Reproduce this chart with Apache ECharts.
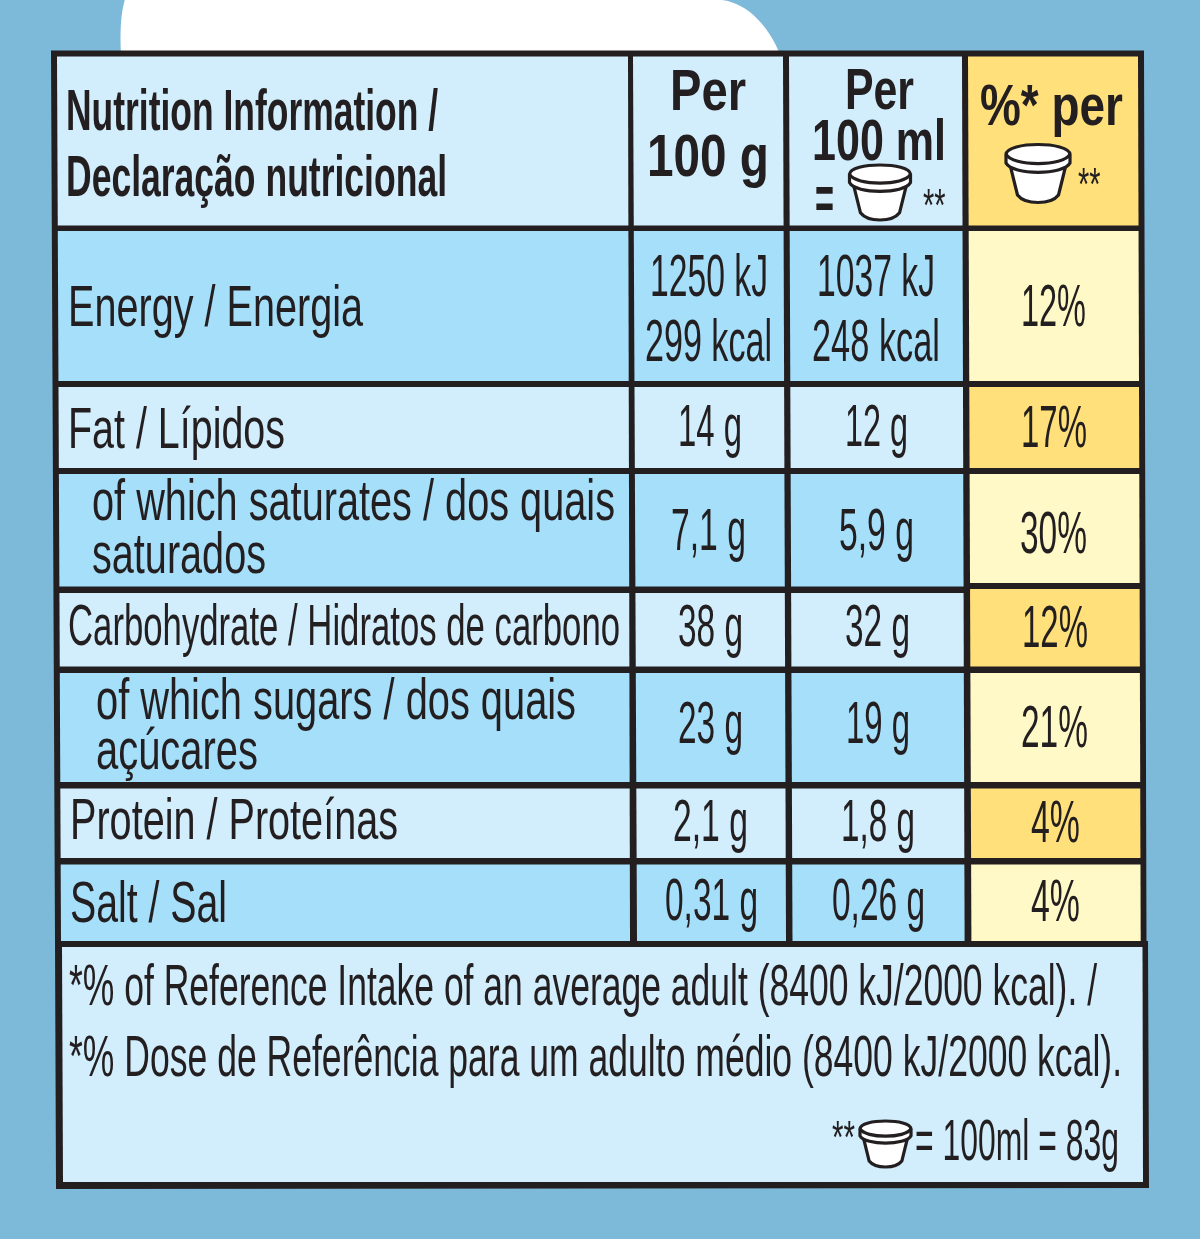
<!DOCTYPE html>
<html lang="en">
<head>
    <meta charset="UTF-8">
    <title>Nutrition Information</title>
    <style>
        html, body { margin: 0; padding: 0; background: #7dbad9; }
    </style>
</head>
<body>
<div id="main" style="width: 1200px;height:1239px;"></div>
<script src="https://cdn.jsdelivr.net/npm/echarts@6/dist/echarts.min.js"></script>
<script>
    // table content
    var headerTitle = ['Nutrition Information /', 'Declaração nutricional'];
    var header100g = ['Per', '100 g'];
    var header100ml = ['Per', '100 ml'];
    var headerPercent = '%* per';
    var rowLabels = [
        ['Energy / Energia'],
        ['Fat / Lípidos'],
        ['of which saturates / dos quais', 'saturados'],
        ['Carbohydrate / Hidratos de carbono'],
        ['of which sugars / dos quais', 'açúcares'],
        ['Protein / Proteínas'],
        ['Salt / Sal']
    ];
    var per100g = [['1250 kJ', '299 kcal'], ['14 g'], ['7,1 g'], ['38 g'], ['23 g'], ['2,1 g'], ['0,31 g']];
    var per100ml = [['1037 kJ', '248 kcal'], ['12 g'], ['5,9 g'], ['32 g'], ['19 g'], ['1,8 g'], ['0,26 g']];
    var percentRI = ['12%', '17%', '30%', '12%', '21%', '4%', '4%'];
    var footnotes = [
        '*% of Reference Intake of an average adult (8400 kJ/2000 kcal). /',
        '*% Dose de Referência para um adulto médio (8400 kJ/2000 kcal).'
    ];
    var portionNote = '= 100ml = 83g';

    // layout, in picture pixels. the printed table leans a little, so columns have a top and a bottom x
    var colTop = [[57, 628], [633, 783], [789, 962], [968, 1138]];
    var colBottom = [[61, 630], [637, 786], [792.5, 964.6], [971.4, 1140.7]];
    var rowEdges = [[56.5, 225.5], [231, 381], [387, 468], [474, 586.5], [593, 666.5], [673, 782], [788.5, 858], [864.5, 941]];
    var rowEdgesLast = [[56.5, 225.5], [231, 381], [387, 468], [474, 583], [589, 666.5], [673, 782], [788.5, 858], [864.5, 941]];
    var footerBox = [[62, 947], [1142.5, 947], [1143, 1182], [63, 1182]];
    var frameOutline = [[51, 50.5], [1144, 50.5], [1146.5, 941], [1148, 941], [1149, 1188], [56, 1189], [55, 941]];
    var blobOutline = 'M121 60 C119 30 121 12 124.5 0 L722 0 C748 3 771 28 782 60 Z';
    var cupBoxes = [[849.5, 165, 61, 55], [1006, 144.5, 64, 58], [860, 1121, 51, 46]];
    var labelBoxes = [
        [[68, 363, 326]], [[68, 285, 448.5]], [[92, 615, 520], [92, 266, 573]], [[68, 620, 645]],
        [[96, 576, 719], [96, 258, 769.5]], [[70, 398, 839]], [[70, 227, 922.5]]
    ];
    var col100gBoxes = [
        [[650, 768, 296], [645, 772, 361.5]], [[678, 742, 446]], [[671, 746, 550.5]], [[678, 743, 646]],
        [[678, 743, 743.5]], [[673, 748, 841.5]], [[665, 758, 920.5]]
    ];
    var col100mlBoxes = [
        [[817, 935, 296], [812, 940, 361.5]], [[845, 908, 446]], [[839, 914, 550.5]], [[845, 910, 646]],
        [[846, 910, 743.5]], [[841, 915, 841.5]], [[832, 925, 920.5]]
    ];
    var percentBoxes = [
        [1021, 1086, 326], [1021, 1087, 447], [1020, 1087, 553], [1022, 1088, 647.5],
        [1021, 1088, 747], [1031, 1080, 842.5], [1031, 1080, 921.5]
    ];

    var colors = {
        bg: '#7dbad9', ink: '#231f20', light: '#d2edfc', mid: '#a6dffa',
        gold: '#ffe07a', pale: '#fff9c8'
    };
    var fontFamily = '"Liberation Sans", Arial, sans-serif';

    function colX(edge, y) {
        return edge[0] + (edge[1] - edge[0]) * (y - 57) / 883;
    }

    // cell polygons
    var cells = [];
    rowEdges.forEach(function (row, r) {
        colTop.forEach(function (top, c) {
            var ys = c === 3 ? rowEdgesLast[r] : row;
            var fill = r % 2 === 0 ? colors.light : colors.mid;
            if (c === 3) {
                fill = r % 2 === 0 ? colors.gold : colors.pale;
            }
            var left = [top[0], colBottom[c][0]];
            var right = [top[1], colBottom[c][1]];
            cells.push({
                points: [
                    [colX(left, ys[0]), ys[0]], [colX(right, ys[0]), ys[0]],
                    [colX(right, ys[1]), ys[1]], [colX(left, ys[1]), ys[1]]
                ],
                fill: fill
            });
        });
    });
    cells.push({ points: footerBox, fill: colors.light });

    // text marks: string, left, right, baseline, size, bold
    var textMarks = [];
    function addText(str, box, size, bold) {
        textMarks.push({ text: str, x0: box[0], x1: box[1], base: box[2], size: size, bold: !!bold });
    }
    addText(headerTitle[0], [66, 438, 130.5], 57, true);
    addText(headerTitle[1], [66, 447, 196.5], 57, true);
    addText(header100g[0], [670, 746, 110], 57, true);
    addText(header100g[1], [647, 769, 176], 59, true);
    addText(header100ml[0], [845, 914, 109], 58, true);
    addText(header100ml[1], [812, 946, 160], 58, true);
    addText('=', [815, 834, 219], 62, true);
    addText('**', [923, 945.5, 221.5], 46);
    addText(headerPercent, [980, 1123, 125], 58, true);
    addText('**', [1078, 1100.5, 200.5], 46);
    rowLabels.forEach(function (lines, r) {
        lines.forEach(function (line, l) {
            addText(line, labelBoxes[r][l], 58);
        });
        per100g[r].forEach(function (line, l) {
            addText(line, col100gBoxes[r][l], 59);
        });
        per100ml[r].forEach(function (line, l) {
            addText(line, col100mlBoxes[r][l], 59);
        });
        addText(percentRI[r], percentBoxes[r], 59);
    });
    addText(footnotes[0], [69, 1097, 1005], 57);
    addText(footnotes[1], [69, 1122, 1076], 57);
    addText('**', [832, 855, 1153.5], 46);
    addText(portionNote, [915, 1119, 1160], 57);

    var measure = document.createElement('canvas').getContext('2d');
    function fontOf(t) {
        return (t.bold ? 'bold ' : '') + t.size + 'px ' + fontFamily;
    }
    function squeeze(t) {
        measure.font = fontOf(t);
        return (t.x1 - t.x0) / measure.measureText(t.text).width;
    }

    // cup icon parts, as bezier outlines inside a box
    function cupParts(x, y, w, h) {
        function p(a, b) {
            return (x + w * a).toFixed(1) + ' ' + (y + h * b).toFixed(1);
        }
        return [
            'M' + p(0.07, 0.38) + ' L' + p(0.18, 0.86) + ' C' + p(0.3, 1.03) + ' ' + p(0.7, 1.03) + ' ' + p(0.82, 0.86)
                + ' L' + p(0.93, 0.38) + ' Z',
            'M' + p(0, 0.17) + ' C' + p(0.02, -0.05) + ' ' + p(0.98, -0.05) + ' ' + p(1, 0.17)
                + ' L' + p(1, 0.32) + ' C' + p(0.9, 0.53) + ' ' + p(0.1, 0.53) + ' ' + p(0, 0.32) + ' Z',
            'M' + p(0, 0.17) + ' C' + p(0.1, 0.38) + ' ' + p(0.9, 0.38) + ' ' + p(1, 0.17)
        ];
    }

    var myChart = echarts.init(document.getElementById('main'), null, { renderer: 'canvas' });

    var option = {
        backgroundColor: colors.bg,
        animation: false,
        grid: { left: 0, right: 0, top: 0, bottom: 0 },
        xAxis: { type: 'value', min: 0, max: 1200, show: false },
        yAxis: { type: 'value', min: 0, max: 1239, inverse: true, show: false },
        series: [
            {
                // white shape behind the table and the dark frame
                type: 'custom',
                silent: true,
                clip: false,
                data: [[0, 0]],
                renderItem: function (params, api) {
                    return {
                        type: 'group',
                        children: [
                            {
                                type: 'path',
                                shape: { pathData: blobOutline, x: 120.5, y: 0, width: 661.5, height: 60, layout: 'cover' },
                                style: { fill: '#fff' }
                            },
                            {
                                type: 'polygon',
                                shape: { points: frameOutline.map(function (pt) { return api.coord(pt); }) },
                                style: { fill: colors.ink }
                            }
                        ]
                    };
                }
            },
            {
                type: 'custom',
                silent: true,
                clip: false,
                data: cells.map(function (c) { return c.points[0]; }),
                renderItem: function (params, api) {
                    var cell = cells[params.dataIndex];
                    return {
                        type: 'polygon',
                        shape: { points: cell.points.map(function (pt) { return api.coord(pt); }) },
                        style: { fill: cell.fill }
                    };
                }
            },
            {
                type: 'custom',
                silent: true,
                clip: false,
                data: cupBoxes,
                renderItem: function (params, api) {
                    var w = api.value(2), h = api.value(3);
                    var pos = api.coord([api.value(0), api.value(1)]);
                    var parts = cupParts(pos[0], pos[1], w, h);
                    var boxes = [
                        { x: pos[0] + w * 0.07, y: pos[1] + h * 0.38, width: w * 0.86, height: h * 0.62 },
                        { x: pos[0], y: pos[1], width: w, height: h * 0.48 },
                        { x: pos[0], y: pos[1] + h * 0.17, width: w, height: h * 0.16 }
                    ];
                    return {
                        type: 'group',
                        children: parts.map(function (d, i) {
                            return {
                                type: 'path',
                                shape: {
                                    pathData: d,
                                    x: boxes[i].x, y: boxes[i].y,
                                    width: boxes[i].width, height: boxes[i].height,
                                    layout: 'cover'
                                },
                                style: {
                                    fill: i === 2 ? 'none' : '#fff',
                                    stroke: colors.ink,
                                    lineWidth: 3.2,
                                    lineJoin: 'round'
                                }
                            };
                        })
                    };
                }
            },
            {
                type: 'custom',
                silent: true,
                clip: false,
                data: textMarks.map(function (t) { return [t.x0, t.base]; }),
                renderItem: function (params, api) {
                    var t = textMarks[params.dataIndex];
                    var pos = api.coord([api.value(0), api.value(1)]);
                    return {
                        type: 'text',
                        x: pos[0],
                        y: pos[1] - t.size * 0.28,
                        scaleX: squeeze(t),
                        style: {
                            text: t.text,
                            font: fontOf(t),
                            fill: colors.ink,
                            align: 'left',
                            verticalAlign: 'middle'
                        }
                    };
                }
            }
        ]
    };

    myChart.setOption(option);
</script>
</body>
</html>
